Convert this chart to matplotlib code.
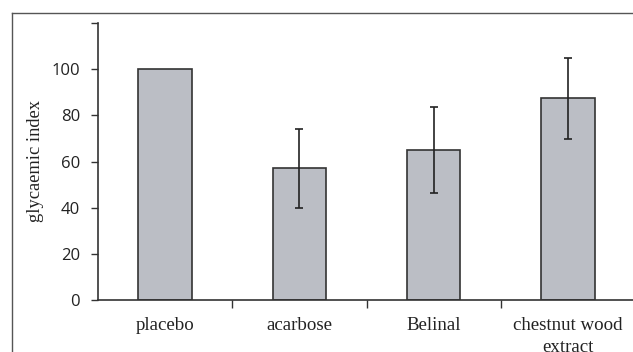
import numpy as np
import matplotlib.pyplot as plt
from matplotlib.lines import Line2D

# glycaemic index per treatment (mean and error)
groups = ['placebo', 'acarbose', 'Belinal', 'chestnut wood\nextract']
gi_mean = [100, 57, 65, 87.3]
gi_err = [0, 17, 18.5, 17.7]

fig = plt.figure(figsize=(6.33, 3.52), dpi=100)
ax = fig.add_axes([98 / 633, 52 / 352, 537 / 633, 277 / 352])

x = np.arange(len(groups))
bars = ax.bar(x, gi_mean, width=0.4, color='#bbbec5', edgecolor='#333333', linewidth=1.2)
for xi, m, e in zip(x, gi_mean, gi_err):
    if e > 0:
        ax.errorbar(xi, m, yerr=e, fmt='none', ecolor='#222222',
                    elinewidth=1.2, capsize=3, capthick=1.2)

ax.set_xlim(-0.5, len(groups) - 0.5)
ax.set_ylim(0, 120)
ax.set_yticks([0, 20, 40, 60, 80, 100, 120])
ax.set_yticklabels(['0', '20', '40', '60', '80', '100', ''])
ax.set_xticks(x)
ax.set_xticklabels(groups, family='Liberation Serif', fontsize=13.6, linespacing=1.4)
ax.set_xticks(np.arange(len(groups)) + 0.5, minor=True)
ax.tick_params(axis='x', which='major', length=0, pad=12, colors='#222222')
ax.tick_params(axis='x', which='minor', length=6, width=1, color='#333333', direction='out')
ax.tick_params(axis='y', length=5, width=1, color='#333333', pad=8, labelsize=12)
for lbl in ax.get_yticklabels():
    lbl.set_family('Open Sans')
    lbl.set_color('#222222')

ax.set_ylabel('glycaemic index', family='Liberation Serif', fontsize=13.3, labelpad=5, color='#222222')

for s in ['top', 'right']:
    ax.spines[s].set_visible(False)
for s in ['left', 'bottom']:
    ax.spines[s].set_color('#333333')
    ax.spines[s].set_linewidth(1.2)

# outer frame around the figure
fig.add_artist(Line2D([12 / 633, 12 / 633], [0, 1 - 13 / 352], transform=fig.transFigure,
                      color='#555555', linewidth=1))
fig.add_artist(Line2D([12 / 633, 1], [1 - 13 / 352, 1 - 13 / 352], transform=fig.transFigure,
                      color='#555555', linewidth=1))

fig.savefig('out.png', dpi=100)
